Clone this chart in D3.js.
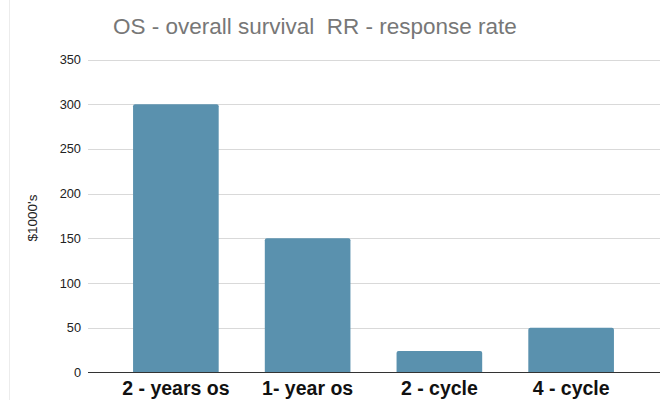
<!DOCTYPE html>
<html>
<head>
<meta charset="utf-8">
<script src="https://cdn.jsdelivr.net/npm/d3@7"></script>
<style>
  html, body { margin: 0; padding: 0; background: #fff; }
  svg { display: block; font-family: "Liberation Sans", Arial, Helvetica, sans-serif; }
</style>
</head>
<body>
<div id="chart"></div>
<script>
// Bar chart: cost per outcome, $1000's
const categories = ["2 - years os", "1- year os", "2 - cycle", "4 - cycle"];
const values = [300, 150, 24, 50];
const yTicks = [0, 50, 100, 150, 200, 250, 300, 350];
const title = "OS - overall survival  RR - response rate";
const yLabel = "$1000's";

const W = 663, H = 404;
const svg = d3.select("#chart").append("svg").attr("width", W).attr("height", H);

// faint frame line on the left edge of the screenshot
svg.append("line").attr("x1", 9.5).attr("x2", 9.5).attr("y1", 0).attr("y2", 400)
  .attr("stroke", "#ececec").attr("stroke-width", 1);

const y = d3.scaleLinear().domain([0, 350]).range([372.5, 59.5]);
const x = d3.scaleBand().domain(categories).range([110, 637])
  .paddingInner(0.35).paddingOuter(0.175);

// gridlines
svg.append("g").selectAll("line").data(yTicks.filter((t) => t > 0)).join("line")
  .attr("x1", 88).attr("x2", 660)
  .attr("y1", (d) => Math.round(y(d)) + 0.5).attr("y2", (d) => Math.round(y(d)) + 0.5)
  .attr("stroke", "#d9d9d9").attr("stroke-width", 1);

// tick labels
svg.append("g").selectAll("text").data(yTicks).join("text")
  .attr("x", 81).attr("y", (d) => y(d) + 4.5)
  .attr("text-anchor", "end").attr("font-size", 12.8).attr("fill", "#222")
  .text((d) => d);

// bars with slightly rounded tops
const r = 2;
svg.append("g").selectAll("path").data(values).join("path")
  .attr("fill", "#5a91ae")
  .attr("d", (d, i) => {
    const x0 = x(categories[i]), w = x.bandwidth(), y0 = y(d), yb = y(0);
    return `M${x0},${yb}V${y0 + r}Q${x0},${y0} ${x0 + r},${y0}H${x0 + w - r}Q${x0 + w},${y0} ${x0 + w},${y0 + r}V${yb}Z`;
  });

// baseline
svg.append("line").attr("x1", 88).attr("x2", 660).attr("y1", 372.5).attr("y2", 372.5)
  .attr("stroke", "#333").attr("stroke-width", 1.2);

// category labels
svg.append("g").selectAll("text").data(categories).join("text")
  .attr("x", (d) => x(d) + x.bandwidth() / 2).attr("y", 395)
  .attr("text-anchor", "middle").attr("font-size", 19.5).attr("font-weight", "bold").attr("fill", "#111")
  .text((d) => d);

// axis title
svg.append("text").attr("transform", "translate(37,218) rotate(-90)")
  .attr("text-anchor", "middle").attr("font-size", 13.5).attr("fill", "#222")
  .text(yLabel);

// chart title (keeps the double space)
svg.append("text").attr("x", 113).attr("y", 34)
  .attr("font-size", 22.5).attr("fill", "#777")
  .style("white-space", "pre")
  .text(title);
</script>
</body>
</html>
